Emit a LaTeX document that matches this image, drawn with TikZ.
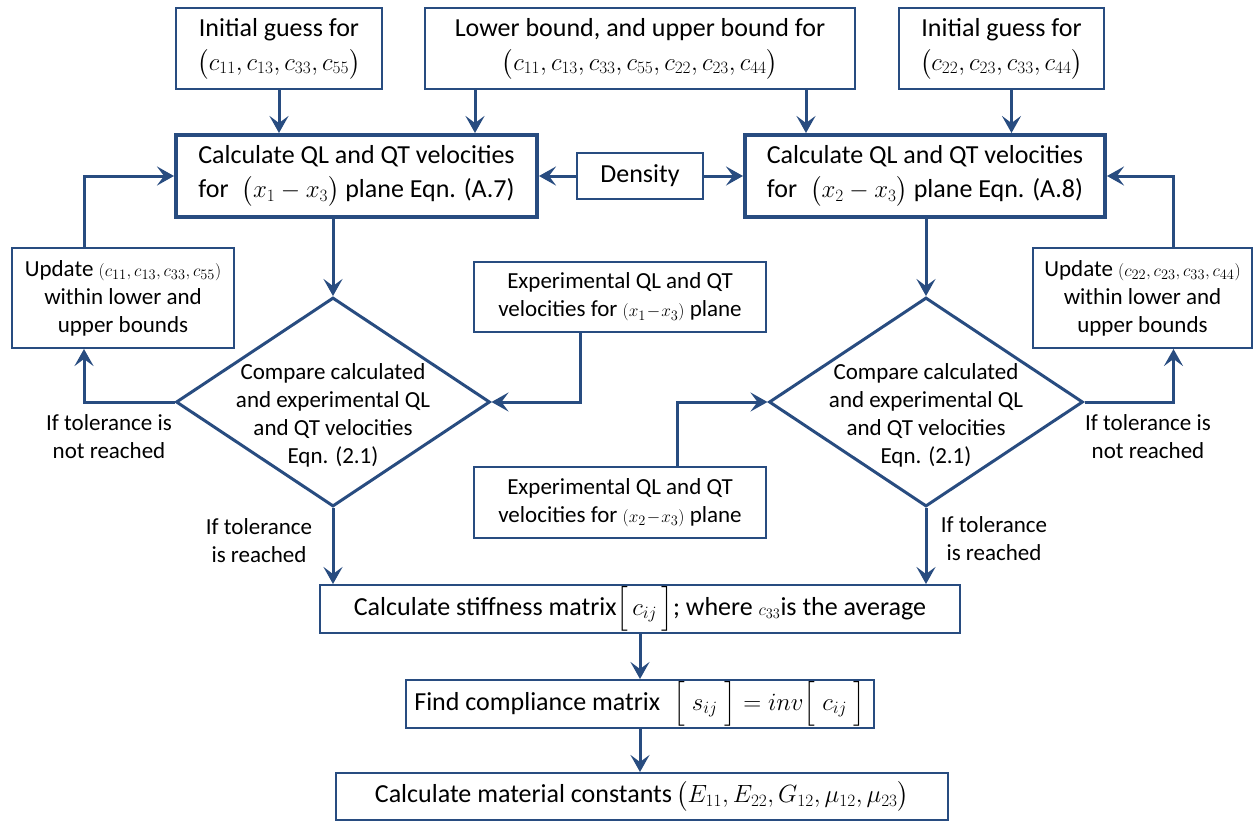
\documentclass[tikz,border=0pt]{standalone}
\usepackage{amsmath}
\usepackage{fontspec}
\setmainfont{Carlito}
\usepackage{tikz}
\usetikzlibrary{shapes.geometric,arrows.meta,calc}

\definecolor{flowblue}{RGB}{40,76,128}

\begin{document}
\begin{tikzpicture}[x=1pt,y=-1pt]
    \newcommand{\boxheight}[0]{81pt}
    \newcommand{\bigtext}[0]{\fontsize{26}{34}\selectfont}
    \newcommand{\smalltext}[0]{\fontsize{23}{28}\selectfont}
    \newcommand{\tinymath}[0]{\fontsize{19}{28}\selectfont}

    \tikzstyle{dedge} = [line width=3pt,-{Stealth[length=17pt,width=19pt,inset=7pt]},draw=flowblue]

    \tikzstyle{inbox}=[
      rectangle,
      draw=flowblue,
      line width=2pt,
      align=center,
      inner sep=0pt,
      minimum height=\boxheight,
      font=\bigtext,
    ]
    \tikzstyle{calcbox}=[
      inbox,
      line width=4pt,
      minimum height=82pt,
    ]
    \tikzstyle{smallbox}=[
      inbox,
      font=\smalltext,
    ]
    \tikzstyle{decision}=[
      diamond,
      draw=flowblue,
      line width=3pt,
      inner sep=0pt,
      minimum width=314pt,
      minimum height=209pt,
    ]
    \tikzstyle{comment}=[
      align=center,
      font=\smalltext,
    ]

    \useasboundingbox (0,0) rectangle (1254,822);

    % inputs
    \node[inbox,minimum width=206pt] (guessleft) at (279,48.5)
      {Initial guess for\\ $\bigl(c_{11},c_{13},c_{33},c_{55}\bigr)$};
    \node[inbox,minimum width=430pt] (bounds) at (640,48.5)
      {Lower bound, and upper bound for\\ $\bigl(c_{11},c_{13},c_{33},c_{55},c_{22},c_{23},c_{44}\bigr)$};
    \node[inbox,minimum width=205pt] (guessright) at (1001.5,48.5)
      {Initial guess for\\ $\bigl(c_{22},c_{23},c_{33},c_{44}\bigr)$};

    % velocities
    \node[calcbox,minimum width=361pt] (calcleft) at (356.5,176)
      {Calculate QL and QT velocities\\ for\; $\bigl(x_1 - x_3\bigr)$ plane Eqn. (A.7)};
    \node[inbox,minimum width=126pt,minimum height=46pt] (density) at (640,176) {Density};
    \node[calcbox,minimum width=360pt] (calcright) at (925,176)
      {Calculate QL and QT velocities\\ for\; $\bigl(x_2 - x_3\bigr)$ plane Eqn. (A.8)};

    \node[smallbox,minimum width=222pt,minimum height=100pt] (updateleft) at (123,298)
      {Update {\tinymath$\left(c_{11},c_{13},c_{33},c_{55}\right)$}\\ within lower and\\ upper bounds};
    \node[smallbox,minimum width=219pt,minimum height=100pt] (updateright) at (1142.5,298)
      {Update {\tinymath$\left(c_{22},c_{23},c_{33},c_{44}\right)$}\\ within lower and\\ upper bounds};

    \node[smallbox,minimum width=292pt,minimum height=70pt] (expleft) at (620,297)
      {Experimental QL and QT\\ velocities for {\tinymath$\left(x_1\!-\!x_3\right)$} plane};
    \node[smallbox,minimum width=292pt,minimum height=71pt] (expright) at (620,502.5)
      {Experimental QL and QT\\ velocities for {\tinymath$\left(x_2\!-\!x_3\right)$} plane};

    % comparison
    \node[decision] (compareleft) at (333,402) {};
    \node[comment] (compareleftlabel) at (333,415)
      {Compare calculated\\ and experimental QL\\ and QT velocities\\ Eqn. (2.1)};
    \node[decision] (compareright) at (926,402) {};
    \node[comment] (comparerightlabel) at (926,415)
      {Compare calculated\\ and experimental QL\\ and QT velocities\\ Eqn. (2.1)};

    \node[comment] (notreachedleft) at (109,437) {If tolerance is\\ not reached};
    \node[comment] (reachedleft) at (259,541) {If tolerance\\ is reached};
    \node[comment] (notreachedright) at (1148,437) {If tolerance is\\ not reached};
    \node[comment] (reachedright) at (994,539) {If tolerance\\ is reached};

    % results
    \node[inbox,minimum width=640pt,minimum height=48pt] (stiffness) at (640,609)
      {Calculate stiffness matrix$\Bigl[\,c_{ij}\,\Bigr]$; where {\tinymath$c_{33}$}is the average};
    \node[inbox,minimum width=468pt,minimum height=48pt] (compliance) at (640,704)
      {Find compliance matrix\; $\Bigl[\;s_{ij}\;\Bigr] = inv\Bigl[\;c_{ij}\;\Bigr]$};
    \node[inbox,minimum width=612pt,minimum height=47pt] (material) at (642,796.5)
      {Calculate material constants$\,\bigl(E_{11},E_{22},G_{12},\mu_{12},\mu_{23}\bigr)$};

    \coordinate (boundsleft) at ([xshift=51pt]bounds.south west);
    \coordinate (boundsright) at ([xshift=-50pt]bounds.south east);
    \coordinate (guessrightfoot) at ([xshift=10pt]guessright.south);

    \draw[dedge] (guessleft.south) -- (guessleft.south |- calcleft.north);
    \draw[dedge] (boundsleft) -- (boundsleft |- calcleft.north);
    \draw[dedge] (boundsright) -- (boundsright |- calcright.north);
    \draw[dedge] (guessrightfoot) -- (guessrightfoot |- calcright.north);

    \draw[dedge] (density.west) -- (calcleft.east);
    \draw[dedge] (density.east) -- (calcright.west);

    \draw[dedge] (calcleft.south -| compareleft.north) -- (compareleft.north);
    \draw[dedge] (calcright.south -| compareright.north) -- (compareright.north);

    \draw[dedge] ([xshift=-39pt]updateleft.north) |- (calcleft.west);
    \draw[dedge] ([xshift=31pt]updateright.north) |- (calcright.east);
    \draw[dedge] (compareleft.west) -| ([xshift=-39pt]updateleft.south);
    \draw[dedge] (compareright.east) -| ([xshift=31pt]updateright.south);

    \draw[dedge] ([xshift=-40pt]expleft.south) |- (compareleft.east);
    \draw[dedge] ([xshift=57pt]expright.north) |- (compareright.west);

    \draw[dedge] (compareleft.south) -- (compareleft.south |- stiffness.north);
    \draw[dedge] (compareright.south) -- (compareright.south |- stiffness.north);
    \draw[dedge] (stiffness.south) -- (compliance.north);
    \draw[dedge] (compliance.south) -- (compliance.south |- material.north);
  \end{tikzpicture}
\end{document}
